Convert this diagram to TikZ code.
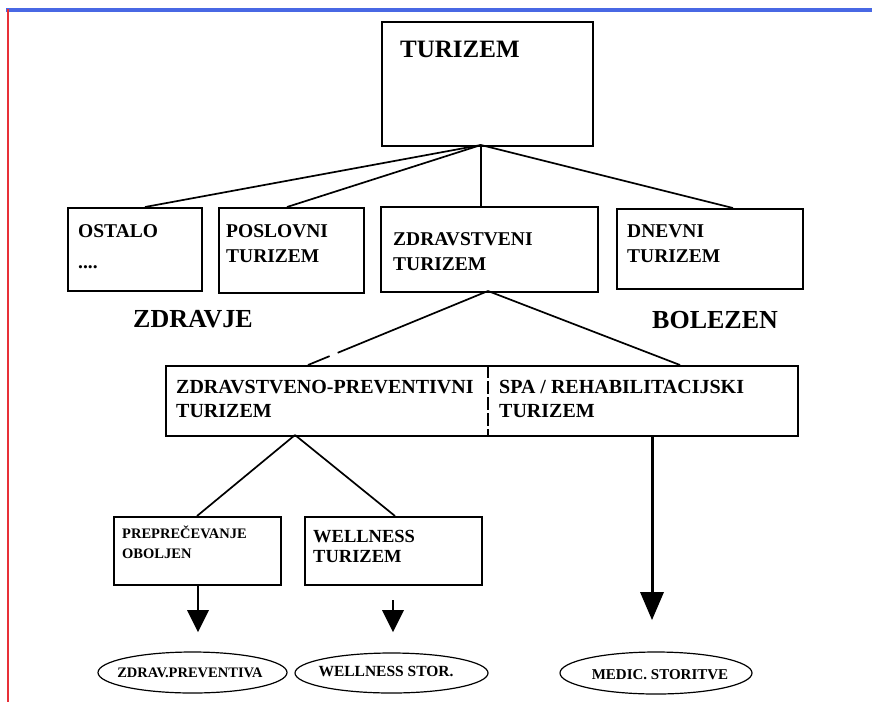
\documentclass[tikz,border=0pt]{standalone}
\usepackage{fontspec}
\setmainfont{Liberation Serif}
\usetikzlibrary{calc,shapes.geometric}
\definecolor{frameblue}{RGB}{72,104,228}
\definecolor{framered}{RGB}{232,48,56}
\begin{document}
\begin{tikzpicture}[x=1pt,y=-1pt,
  box/.style={draw,line width=1.9pt,rectangle,inner sep=0pt,anchor=north west},
  txt/.style={anchor=base west,inner sep=0pt,font=\bfseries\fontsize{#1}{#1}\selectfont},
  txt/.default=19.5,
  link/.style={line width=1.7pt},
  oval/.style={draw,ellipse,line width=1.2pt,inner sep=0pt},
  ovaltxt/.style={inner sep=0pt,font=\bfseries\fontsize{#1}{#1}\selectfont},
  tipfill/.style={fill=black},
  shaft/.style={line width=2.6pt}
]
% page and frame lines
\fill[white] (0,0) rectangle (872,702);
\useasboundingbox (0,0) rectangle (872,702);
\draw[frameblue,line width=3.5pt] (6,10) -- (872,10);
\draw[framered,line width=2pt] (8,9) -- (8,702);

% top level
\node[box,minimum width=211pt,minimum height=124pt] (tur) at (381,21) {};
\node[txt=25] (turT) at (400,57) {TURIZEM};

% second row of boxes
\node[box,minimum width=134pt,minimum height=83pt] (ost) at (67,207) {};
\node[box,minimum width=145pt,minimum height=85pt] (pos) at (218,207) {};
\node[box,minimum width=217pt,minimum height=85pt] (zdr) at (380,206) {};
\node[box,minimum width=186pt,minimum height=80pt] (dne) at (616,208) {};

\node[txt] (ostA) at (78,237) {OSTALO};
\node[txt] (ostB) at (78,268) {....};
\node[txt] (posA) at (226,237) {POSLOVNI};
\node[txt] (posB) at (226,262) {TURIZEM};
\node[txt] (zdrA) at (393,245) {ZDRAVSTVENI};
\node[txt] (zdrB) at (393,270) {TURIZEM};
\node[txt] (dneA) at (627,237) {DNEVNI};
\node[txt] (dneB) at (627,262) {TURIZEM};

% connectors from the top box
\coordinate (turS) at (481,145);
\coordinate (ostN) at (145,207);
\coordinate (posN) at (287,207);
\coordinate (zdrN) at (481,206);
\coordinate (dneN) at (733,208);
\draw[link] (turS) -- (ostN);
\draw[link] (turS) -- (posN);
\draw[link] (turS) -- (zdrN);
\draw[link] (turS) -- (dneN);

% side headings
\node[txt=26] (zdravje) at (133,327) {ZDRAVJE};
\node[txt=26] (bolezen) at (652,328) {BOLEZEN};

% split box
\node[box,minimum width=632pt,minimum height=70pt] (mid) at (165,365) {};
\draw[line width=1.7pt,dash pattern=on 13pt off 3pt] (488,365) -- (488,435);
\node[txt=20] (midA) at (176,393) {ZDRAVSTVENO-PREVENTIVNI};
\node[txt=20] (midB) at (176,417) {TURIZEM};
\node[txt=20] (spaA) at (499,393) {SPA / REHABILITACIJSKI};
\node[txt=20] (spaB) at (499,417) {TURIZEM};

\coordinate (zdrS) at (488,291);
\coordinate (midL) at (308,365);
\coordinate (midR) at (680,365);
\draw[link] (zdrS) -- ($(zdrS)!0.835!(midL)$);
\draw[link] ($(zdrS)!0.88!(midL)$) -- (midL);
\draw[link] (zdrS) -- (midR);

% third row
\node[box,minimum width=167pt,minimum height=68pt] (pre) at (113,516) {};
\node[box,minimum width=177pt,minimum height=68pt] (wel) at (304,516) {};
\node[txt=14.5] (preA) at (122,538) {PREPREČEVANJE};
\node[txt=14.5] (preB) at (122,558) {OBOLJEN};
\node[txt=18.5] (welA) at (313,542) {WELLNESS};
\node[txt=18.5] (welB) at (313,562) {TURIZEM};

\coordinate (midS) at (295,435);
\coordinate (preN) at (197,516);
\coordinate (welN) at (395,516);
\draw[link] (midS) -- (preN);
\draw[link] (midS) -- (welN);

% arrows down to the services
\coordinate (preS) at (198,584);
\coordinate (preT) at (198,610);
\draw[shaft] (preS) -- (preT);
\fill[tipfill] (187,610) -- (209,610) -- (198,632) -- cycle;

\coordinate (welS) at (393,600);
\coordinate (welT) at (393,610);
\draw[shaft] (welS) -- (welT);
\fill[tipfill] (382,610) -- (404,610) -- (393,632) -- cycle;

\coordinate (spaS) at (652,435);
\coordinate (spaT) at (652,593);
\draw[shaft,line width=3pt] (spaS) -- (spaT);
\fill[tipfill] (640,592) -- (664,592) -- (652,620) -- cycle;

% services
\node[oval,minimum width=189pt,minimum height=41pt] (ovPre) at (192.5,672.5) {};
\node[oval,minimum width=193pt,minimum height=40pt] (ovWel) at (391.5,673) {};
\node[oval,minimum width=192pt,minimum height=42pt] (ovMed) at (656,673) {};
\node[ovaltxt=14.5] (ovPreT) at (190,673) {ZDRAV.PREVENTIVA};
\node[ovaltxt=15.5] (ovWelT) at (386,671) {WELLNESS STOR.};
\node[ovaltxt=15] (ovMedT) at (660,675) {MEDIC. STORITVE};
\end{tikzpicture}
\end{document}
